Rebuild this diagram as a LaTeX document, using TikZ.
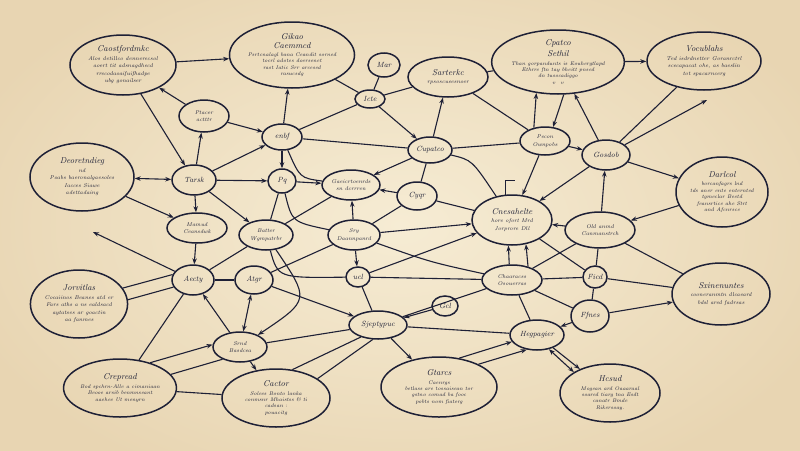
\documentclass[tikz,border=0pt]{standalone}
\usetikzlibrary{shapes.geometric,arrows.meta}
\definecolor{ink}{RGB}{30,32,54}
\definecolor{bgin}{RGB}{246,236,212}
\definecolor{bgout}{RGB}{232,213,178}
\tikzset{
  nd/.style={draw=ink, line width=1.5pt, ellipse, inner sep=0pt, align=center, text=ink,
     font=\itshape\fontsize{5.5}{7.5}\selectfont},
  tight/.style={font=\itshape\fontsize{5.3}{6.4}\selectfont},
  sm/.style={nd, font=\itshape\fontsize{7.5}{8.5}\selectfont},
  ed/.style={draw=ink, line width=1.1pt},
  ar/.style={ed, -{Stealth[length=6pt,width=4.5pt]}},
  dar/.style={ed, {Stealth[length=6pt,width=4.5pt]}-{Stealth[length=6pt,width=4.5pt]}}
}
\newcommand{\ttl}[1]{{\fontsize{8.5}{9}\selectfont #1}}
\begin{document}
\begin{tikzpicture}[x=1pt,y=-1pt]
\useasboundingbox (0,0) rectangle (800,450);
\shade[inner color=bgin, outer color=bgout] (-60,-60) rectangle (860,510);
% nodes
\node[nd, minimum width=106pt, minimum height=60pt] (A) at (123,65) {\ttl{Caostfordmkc}\\[1pt]Alos detillco dennerecsol\\aoert tit adsnagdhecd\\rrecodaoaifuifhadpe\\ubg gonailser};
\node[nd, tight, minimum width=118pt, minimum height=66pt] (B) at (292,55) {\ttl{Gikao}\\[2.5pt]\ttl{Caemmcd}\\[2pt]Psrtcnalagl bana Ceandit sorned\\tocrl adotes doersenet\\rast Iatic Srr arcesed\\rasucsdg};
\node[sm, minimum width=32pt, minimum height=24pt] (C) at (384,65) {Mar};
\node[sm, minimum width=30pt, minimum height=18pt] (D) at (370,99) {Icte};
\node[nd, minimum width=80pt, minimum height=40pt] (E) at (448,77) {\ttl{Sarterkc}\\[1pt]rpsoscueesnoer};
\node[nd, tight, minimum width=124pt, minimum height=64pt] (F) at (558,62) {\ttl{Cpatco}\\[2.5pt]\ttl{Sethil}\\[2pt]Than gorpandunts is Eouhergtlapd\\Ethrre ftn tay bheitt pnsed\\dn tusocadiggo\\v\quad v};
\node[nd, minimum width=114pt, minimum height=58pt] (G) at (704,61) {\ttl{Vocublahs}\\[1pt]Ted isdrdnetter Goranrctrl\\scecapacat ohe, as baeslin\\tot spacarncerg};
\node[nd, minimum width=50pt, minimum height=32pt] (H) at (204,116) {Ptacer\\actttr};
\node[sm, minimum width=40pt, minimum height=26pt] (I) at (282,137) {enbf};
\node[nd, minimum width=104pt, minimum height=68pt] (J) at (82,177) {\ttl{Deoretndieg}\\[1pt]nd\\Poabs baeronalgaesoles\\Iacces Siawe\\adettadaing};
\node[sm, minimum width=44pt, minimum height=30pt] (K) at (194,180) {Tarsk};
\node[sm, minimum width=28pt, minimum height=24pt] (L) at (282,181) {Pq};
\node[nd, minimum width=58pt, minimum height=30pt] (M) at (351,185) {Gaeicrtoenrds\\sn dcrrren};
\node[sm, minimum width=44pt, minimum height=26pt] (N) at (430,150) {Cupatco};
\node[nd, minimum width=50pt, minimum height=28pt] (O) at (545,141) {Pecon\\Ownpobs};
\node[sm, minimum width=48pt, minimum height=30pt] (P) at (606,155) {Gosdob};
\node[sm, minimum width=40pt, minimum height=28pt] (Q) at (417,196) {Cyqr};
\node[nd, minimum width=80pt, minimum height=50pt] (R) at (512,220) {\ttl{Cnesahelte}\\[1pt]hore ofort Mrd\\Jorprore Dll};
\node[nd, tight, minimum width=92pt, minimum height=70pt] (S) at (722,192) {\ttl{Darlcol}\\[2pt]borcanfagrs lnd\\tds aner ente enternted\\tgmeclar Beetd\\feansrtice ahe Strt\\and Afcnrsce};
\node[nd, minimum width=54pt, minimum height=30pt] (T) at (266,235) {Batter\\Wgmpatrbr};
\node[nd, minimum width=60pt, minimum height=30pt] (U) at (197,228) {Mamud\\Ceansdwk};
\node[nd, minimum width=52pt, minimum height=30pt] (V) at (354,235) {Sry\\Daannpanrd};
\node[nd, minimum width=70pt, minimum height=36pt] (W) at (600,230) {Old anmd\\Canmanstrch};
\node[nd, minimum width=94pt, minimum height=68pt] (X) at (79,304) {\ttl{Jorvitlas}\\[1pt]Cocaiinos Beanes atd er\\Fars aths a ns ealdsacd\\aytatses ar goactin\\aa fanmes};
\node[sm, minimum width=42pt, minimum height=30pt] (Y) at (193,280) {Aecty};
\node[sm, minimum width=38pt, minimum height=28pt] (Z) at (254,280) {Atgr};
\node[sm, minimum width=24pt, minimum height=20pt] (AA) at (358,277) {ucl};
\node[nd, minimum width=60pt, minimum height=30pt] (AB) at (512,280) {Chaaracss\\Osouerras};
\node[sm, minimum width=26pt, minimum height=20pt] (AC) at (445,306) {Gcl};
\node[sm, minimum width=24pt, minimum height=22pt] (AD) at (595,277) {Ficd};
\node[nd, minimum width=98pt, minimum height=62pt] (AE) at (721,294) {\ttl{Sxinenuntes}\\[1pt]cooneranmtn dlcaeard\\bdsl ared fadrsas};
\node[sm, minimum width=38pt, minimum height=32pt] (AF) at (590,316) {Ffnes};
\node[sm, minimum width=58pt, minimum height=28pt] (AG) at (378,325) {Sjeptypuc};
\node[sm, minimum width=54pt, minimum height=30pt] (AH) at (537,335) {Hegpagier};
\node[nd, minimum width=54pt, minimum height=30pt] (AI) at (240,347) {Srnd\\Basdcea};
\node[nd, tight, minimum width=106pt, minimum height=58pt] (AJ) at (120,388) {\ttl{Crepread}\\[2pt]Bod spchrn-Alle a cimaniaan\\Beooe arsib benmnseant\\aaehee Ut menyrn};
\node[nd, tight, minimum width=108pt, minimum height=58pt] (AK) at (276,398) {\ttl{Cactor}\\[2pt]Solees Bonto lanka\\conmsnr Mhaistss \& ti\\cadsan :\\pouacitg};
\node[nd, tight, minimum width=116pt, minimum height=60pt] (AL) at (439,387) {\ttl{Gtarcs}\\[2pt]Caenrgs\\betlass are tossaisean tor\\gstno comad ba fooc\\pobts nom fiaterg};
\node[nd, tight, minimum width=100pt, minimum height=58pt] (AM) at (610,393) {\ttl{Hcsud}\\[2pt]Mogean ard Oaaaraal\\soared tiarg tna Esdt\\canatr Bmde\\Rikersoay.};
\coordinate (fp) at (707,100);
\coordinate (fy) at (93,232);
% edges
\draw[ar] (A) -- (B);
\draw[ar] (H) -- (A);
\draw[ar] (A) -- (K);
\draw[ar] (K) -- (H);
\draw[ar] (H) -- (I);
\draw[ar] (I) -- (B);
\draw[ar] (K) -- (I);
\draw[dar] (J) -- (K);
\draw[ar] (K) -- (L);
\draw[ar] (K) -- (U);
\draw[ar] (J) -- (U);
\draw[ar] (K) -- (T);
\draw[ar] (I) -- (L);
\draw[ed] (I) -- (D);
\draw[ed] (I) -- (N);
\draw[ed] (I) .. controls (300,178) .. (M);
\draw[ed] (B) -- (D);
\draw[ed] (C) -- (D);
\draw[ed] (D) -- (E);
\draw[ar] (D) -- (N);
\draw[ar] (N) -- (E);
\draw[ed] (E) -- (O);
\draw[ed] (E) -- (F);
\draw[ar] (O.130) -- (F.235);
\draw[ar] (F.280) -- (O.60);
\draw[ar] (P) -- (F);
\draw[ar] (F) -- (G);
\draw[ed] (P) -- (G);
\draw[ar] (P) -- (fp);
\draw[ar] (O) -- (P);
\draw[ar] (P) -- (S);
\draw[ed] (N) -- (O);
\draw[ar] (N) -- (M);
\draw[ed] (N) -- (Q);
\draw[ar] (Q) -- (M);
\draw[ar] (L) -- (M);
\draw[ar] (V) -- (M);
\draw[ar] (V) -- (R);
\draw[ar] (O) -- (R);
\draw[ar] (P) -- (R);
\draw[ed] (Q) -- (R);
\draw[ed] (N) .. controls (472,160) .. (R);
\draw[ed] (R.105) -- ++(0,-14) -- ++(10,0);
\draw[ar] (W) -- (R);
\draw[ar] (S) -- (W);
\draw[ar] (W) -- (P);
\draw[ed] (W) -- (AE);
\draw[ed] (W) -- (AD);
\draw[ed] (AD) -- (AF);
\draw[ed] (AB) -- (W);
\draw[ed] (AB) -- (AD);
\draw[ar] (AB.100) -- (R.262);
\draw[ar] (AB.40) -- (R.300);
\draw[ed] (AB) -- (AH);
\draw[ar] (AF) -- (AH);
\draw[ar] (AH) -- (AM);
\draw[dar] (AH.310) -- (AM.150);
\draw[ar] (AF) -- (AE);
\draw[ed] (R) -- (AD);
\draw[ed] (AB) -- (AF);
\draw[ed] (AD) -- (AE);
\draw[ar] (AL.55) -- (AH.195);
\draw[ar] (AL.30) -- (AH.235);
\draw[ed] (AG) -- (AH);
\draw[ar] (AG) -- (AL);
\draw[ed] (AG) -- (AB);
\draw[ed] (AA) -- (AB);
\draw[ed] (V) .. controls (430,262) .. (AB);
\draw[ar] (AA) -- (R);
\draw[ar] (V) -- (AA);
\draw[ed] (Q) -- (V);
\draw[ed] (T) -- (M);
\draw[ed] (L) -- (T);
\draw[ed] (L) .. controls (292,222) .. (V);
\draw[ed] (T) .. controls (278,278) .. (AA);
\draw[ar] (T) .. controls (310,300) .. (AI);
\draw[ed] (Z) -- (V);
\draw[ar] (Z) -- (AG);
\draw[dar] (Z) -- (AI);
\draw[ed] (Y) -- (Z);
\draw[ed] (Y) -- (T);
\draw[ar] (Y) -- (fy);
\draw[ar] (U) -- (Y);
\draw[ed] (X.20) -- (Y.165);
\draw[ed] (X.5) -- (Y.200);
\draw[ed] (AJ) -- (Y);
\draw[ar] (AI) -- (Y);
\draw[ar] (AJ.40) -- (AI.175);
\draw[ed] (AJ.15) -- (AI.215);
\draw[ed] (AJ) -- (AK);
\draw[ar] (AI) -- (AK);
\draw[ed] (AI) -- (AG);
\draw[ed] (AK.60) -- (AG.215);
\draw[ed] (AK.25) -- (AG.250);
\draw[ed] (AA) -- (AG);
\draw[ar] (AC) -- (AG);
\end{tikzpicture}
\end{document}
